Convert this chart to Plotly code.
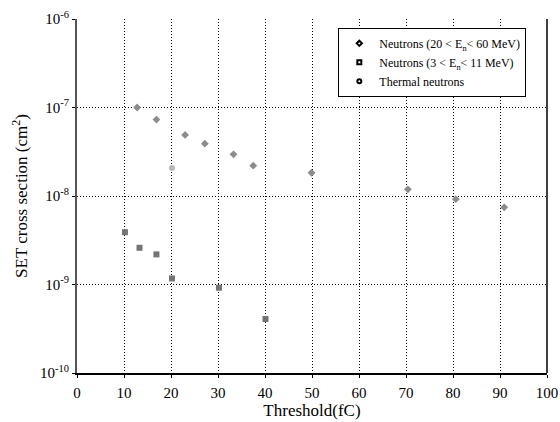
import plotly.graph_objects as go

# Neutrons, 20 < En < 60 MeV
fast_threshold = [12.8, 16.9, 23.0, 27.2, 33.3, 37.5, 49.9, 70.4, 80.6, 90.9]
fast_sigma = [1.0e-7, 7.3e-8, 4.9e-8, 3.9e-8, 2.96e-8, 2.2e-8, 1.83e-8, 1.19e-8, 9.2e-9, 7.45e-9]

# Neutrons, 3 < En < 11 MeV
mid_threshold = [10.2, 13.3, 16.9, 20.2, 30.2, 40.1]
mid_sigma = [3.9e-9, 2.6e-9, 2.19e-9, 1.17e-9, 9.2e-10, 4.07e-10]

# Thermal neutrons
thermal_threshold = [20.2]
thermal_sigma = [2.07e-8]

x_ticks = [0, 10, 20, 30, 40, 50, 60, 70, 80, 90, 100]
y_ticks = [1e-10, 1e-9, 1e-8, 1e-7, 1e-6]
y_tick_labels = ["10<sup>-10</sup>", "10<sup>-9</sup>", "10<sup>-8</sup>",
                 "10<sup>-7</sup>", "10<sup>-6</sup>"]

legend_names = [
    "Neutrons (20 < E<sub>n</sub>< 60 MeV)",
    "Neutrons (3 < E<sub>n</sub>< 11 MeV)",
    "Thermal neutrons",
]

FONT = "Liberation Serif, Times New Roman, serif"

fig = go.Figure()

# data series (gray markers)
fig.add_trace(go.Scatter(x=fast_threshold, y=fast_sigma, mode="markers",
                         marker=dict(symbol="diamond", size=6, color="#8c8c8c"),
                         showlegend=False))
fig.add_trace(go.Scatter(x=mid_threshold, y=mid_sigma, mode="markers",
                         marker=dict(symbol="square", size=6, color="#747474"),
                         showlegend=False))
fig.add_trace(go.Scatter(x=thermal_threshold, y=thermal_sigma, mode="markers",
                         marker=dict(symbol="circle", size=6, color="#b8b8b8"),
                         showlegend=False))

# legend keys drawn as small black outline symbols
for name, sym in zip(legend_names, ["diamond-open", "square-open", "circle-open"]):
    fig.add_trace(go.Scatter(x=[None], y=[None], mode="markers", name=name,
                             marker=dict(symbol=sym, size=4, color="black",
                                         line=dict(width=2, color="black"))))

DOT = "1px,2px"

fig.update_layout(
    width=560, height=422,
    margin=dict(l=77, r=13, t=19, b=49),
    paper_bgcolor="white", plot_bgcolor="white",
    font=dict(family=FONT, size=14, color="black"),
    legend=dict(x=0.556, y=0.975, xanchor="left", yanchor="top",
                bgcolor="white", bordercolor="black", borderwidth=1,
                font=dict(family=FONT, size=12, color="black"),
                tracegroupgap=0, itemwidth=30),
    xaxis=dict(range=[0, 100], tickvals=x_ticks, showgrid=True,
               gridcolor="black", griddash=DOT, gridwidth=1,
               showline=True, linecolor="black", linewidth=1.5,
               ticks="outside", ticklen=3, tickcolor="black",
               ticklabelstandoff=2, zeroline=False, automargin=False,
               tickfont=dict(family=FONT, size=15, color="black"),
               title=dict(text="Threshold(fC)",
                          font=dict(family=FONT, size=17, color="black"),
                          standoff=3)),
    yaxis=dict(type="log", range=[-10, -6], tickvals=y_ticks,
               ticktext=y_tick_labels, showgrid=True,
               gridcolor="black", griddash=DOT, gridwidth=1,
               showline=True, linecolor="#555555", linewidth=2,
               ticks="outside", ticklen=3, tickcolor="black",
               zeroline=False, automargin=False,
               tickfont=dict(family=FONT, size=15, color="black"),
               title=dict(text="SET cross section (cm<sup>2</sup>)",
                          font=dict(family=FONT, size=17, color="black"),
                          standoff=8)),
)

# right frame edge
fig.add_shape(type="line", xref="paper", yref="paper", x0=1, x1=1, y0=0, y1=1,
              line=dict(color="black", width=1.5))

fig.write_html("out.html")
